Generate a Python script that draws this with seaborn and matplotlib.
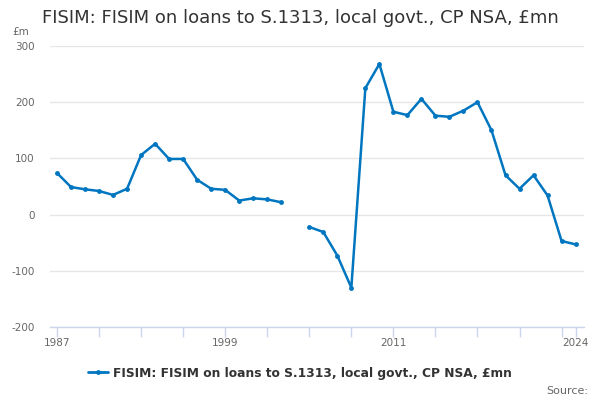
import matplotlib
matplotlib.use("Agg")
import matplotlib.pyplot as plt
from matplotlib.lines import Line2D
import numpy as np
import pandas as pd
import seaborn as sns

# Data (2004 missing)
years = list(range(1987, 2025))
values = [74, 49, 45, 42, 35, 46, 106, 126, 99, 99, 62, 46, 44, 25, 29, 27, 22,
          np.nan,
          -22, -31, -73, -130, 225, 268, 183, 177, 206, 176, 174, 185, 200, 150,
          70, 46, 70, 34, -47, -53]
series_name = "FISIM: FISIM on loans to S.1313, local govt., CP NSA, £mn"
tick_years = list(range(1987, 2024, 3)) + [2024]
label_years = [1987, 1999, 2011, 2024]

df = pd.DataFrame({"year": years, "value": values})
df["segment"] = df["value"].isna().cumsum()
df = df.dropna()

blue = "#0076c0"
grey_txt = "#666666"
axis_col = "#ccd6eb"

sns.set_theme(style="white")
plt.rcParams["font.family"] = ["DejaVu Sans"]
plt.rcParams["axes.unicode_minus"] = False

fig = plt.figure(figsize=(6, 4), dpi=100)
ax = fig.add_axes([50 / 600, 1 - 327 / 400, 534 / 600, 281 / 400])

sns.lineplot(data=df, x="year", y="value", units="segment", estimator=None,
             color=blue, linewidth=1.8, marker="o", markersize=3.5,
             markeredgewidth=0, ax=ax)

ax.set_xlim(1986.5, 2024.6)
ax.set_ylim(-200, 300)
ax.set_yticks([-200, -100, 0, 100, 200, 300])
ax.set_xticks(tick_years)
ax.set_xticklabels([str(y) if y in label_years else "" for y in tick_years])
ax.grid(axis="y", color="#e6e6e6", linewidth=1)
ax.set_axisbelow(True)
ax.set_xlabel("")
ax.set_ylabel("")
for s in ["top", "right", "left"]:
    ax.spines[s].set_visible(False)
ax.spines["bottom"].set_color(axis_col)
ax.spines["bottom"].set_linewidth(1)
ax.tick_params(axis="y", length=0, pad=11, labelsize=7.5, labelcolor=grey_txt)
ax.tick_params(axis="x", length=7, width=1, color=axis_col, direction="out",
               pad=1, labelsize=7.5, labelcolor=grey_txt, bottom=True)

fig.text(42 / 600, 1 - 18 / 400, "FISIM: FISIM on loans to S.1313, local govt., CP NSA, £mn",
         fontsize=13, color="#333333", va="center", ha="left")
fig.text(12 / 600, 1 - 32 / 400, "£m", fontsize=7.5, color=grey_txt, va="center", ha="left")
fig.text(588 / 600, 1 - 391 / 400, "Source:", fontsize=8, color=grey_txt, va="center", ha="right")

handle = Line2D([], [], color=blue, linewidth=2, marker="o", markersize=3.5,
                markeredgewidth=0)
leg = fig.legend([handle], [series_name], loc="center", bbox_to_anchor=(0.5, 1 - 373 / 400),
                 frameon=False, handlelength=1.6, handletextpad=0.4,
                 prop={"weight": "bold", "size": 8.8})
for t in leg.get_texts():
    t.set_color("#333333")

fig.savefig("out.png", dpi=100)
